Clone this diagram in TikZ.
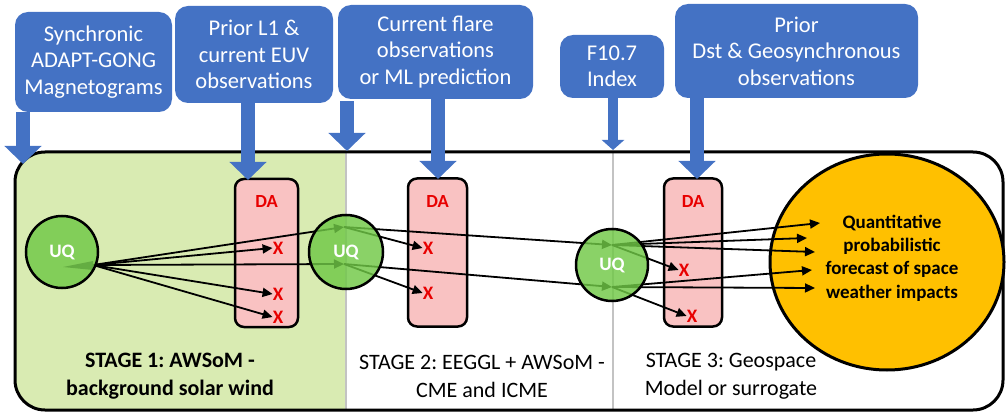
\documentclass[tikz,border=0pt]{standalone}
\usepackage{fontspec}
\setmainfont{Carlito}
\usetikzlibrary{arrows.meta,shapes.geometric}
\definecolor{cblue}{RGB}{68,114,196}
\definecolor{cgreen}{RGB}{112,200,70}
\definecolor{stagebg}{RGB}{217,235,178}
\definecolor{dapink}{RGB}{249,194,194}
\definecolor{corange}{RGB}{255,192,0}
\definecolor{sepgray}{RGB}{195,195,195}
\definecolor{xred}{RGB}{232,0,0}
\frenchspacing
\begin{document}
\begin{tikzpicture}[x=1pt,y=-1pt,
  callout/.style={fill=cblue, rounded corners=13pt, text=white, align=center,
    font=\fontsize{22.5}{26.5}\selectfont, inner sep=0pt},
  feed/.style={cblue, line width=14pt, -{Triangle[width=36pt,length=18pt]}},
  feedthin/.style={cblue, line width=10pt, -{Triangle[width=22pt,length=10pt]}},
  uq/.style={circle, draw=black, line width=2.5pt, fill=cgreen, fill opacity=0.82,
    text opacity=1, text=white, font=\bfseries\fontsize{19}{22}\selectfont,
    minimum size=72pt, inner sep=0pt},
  dabox/.style={draw=black, line width=2.5pt, fill=dapink, rounded corners=9pt,
    minimum height=148pt, inner sep=0pt},
  dalabel/.style={text=xred, font=\bfseries\fontsize{18.5}{20}\selectfont, inner sep=0pt},
  xmark/.style={text=xred, font=\bfseries\fontsize{19}{22}\selectfont, inner sep=0pt},
  conn/.style={black, line width=1.8pt, -{Triangle[length=10pt,width=9pt]}},
  stagelbl/.style={align=center, font=\fontsize{22}{28}\selectfont, inner sep=0pt},
  sep/.style={sepgray, line width=2pt}
]
\useasboundingbox (0,0) rectangle (1006,414);

% stage 1 background
\begin{scope}
  \clip[rounded corners=30pt] (15,152) rectangle (1003,410);
  \fill[stagebg] (15,152) rectangle (346,410);
\end{scope}
% separators
\draw[sep] (346,152) -- (346,410);
\draw[sep] (613,152) -- (613,410);
% main frame
\draw[line width=3pt, rounded corners=30pt] (15,152) rectangle (1003,410);

% DA boxes
\node[dabox, minimum width=63pt] (DA1) at (266.5,253) {};
\node[dabox, minimum width=59pt] (DA2) at (437.5,252.5) {};
\node[dabox, minimum width=58pt] (DA3) at (693,252.5) {};
\node[dalabel] (DAl1) at (266.5,202) {DA};
\node[dalabel] (DAl2) at (437.5,202) {DA};
\node[dalabel] (DAl3) at (693,202) {DA};

% X marks
\node[xmark] (x11) at (278,248) {X};
\node[xmark] (x12) at (278,294) {X};
\node[xmark] (x13) at (278,317) {X};
\node[xmark] (x21) at (428,248) {X};
\node[xmark] (x22) at (428,293) {X};
\node[xmark] (x31) at (684,270) {X};
\node[xmark] (x32) at (692,316) {X};

% forecast circle
\node[ellipse, draw=black, line width=3pt, fill=corange, minimum width=234pt,
  minimum height=216pt, inner sep=0pt] (FC) at (887,262) {};
\node[align=center, font=\bfseries\fontsize{19}{23.3}\selectfont, inner sep=0pt]
  (FCt) at (892,258) {Quantitative\\probabilistic\\forecast of space\\weather impacts};

% connector anchor points
\coordinate (o1) at (93,265);
\coordinate (o2a) at (344,227);
\coordinate (o2b) at (344,264);
\coordinate (o3a) at (612,245);
\coordinate (o3b) at (612,287);
\coordinate (f1) at (820,223);
\coordinate (f2) at (807,238);
\coordinate (f3) at (815,252);
\coordinate (f4) at (812,270);
\coordinate (f5) at (815,288);

% stage 1 arrows
\fill[black!80] (93,261) -- (93,270) -- (63,267) -- cycle;
\draw[conn] (o1) -- (o2a);
\draw[conn] (o1) -- (x11.west);
\draw[conn] (o1) -- (o2b);
\draw[conn] (o1) -- (x12.west);
\draw[conn] (o1) -- (x13.west);
% stage 2 arrows
\draw[conn] (o2a) -- (o3a);
\draw[conn] (o2a) -- (x21.west);
\draw[conn] (o2b) -- (o3b);
\draw[conn] (o2b) -- (x22.west);
% stage 3 arrows
\draw[conn] (o3a) -- (f1);
\draw[conn] (o3a) -- (f2);
\draw[conn] (o3a) -- (f3);
\draw[conn] (o3a) -- (x31.west);
\draw[conn] (o3b) -- (f4);
\draw[conn] (o3b) -- (f5);
\draw[conn] (o3b) -- (x32.west);

% UQ circles
\node[uq] (UQ1) at (62,252) {UQ};
\node[uq, minimum size=74pt] (UQ2) at (346,252) {UQ};
\node[uq] (UQ3) at (612,265) {UQ};

% stage labels
\node[stagelbl, font=\bfseries\fontsize{22}{28}\selectfont] (S1) at (170,376)
  {STAGE 1: AWSoM -\\background solar wind};
\node[stagelbl] (S2) at (482,376) {STAGE 2: EEGGL + AWSoM -\\CME and ICME};
\node[stagelbl] (S3) at (731,376) {STAGE 3: Geospace\\Model or surrogate};

% callouts
\node[callout, minimum width=157pt, minimum height=100pt] (C1) at (93.5,62)
  {Synchronic\\ADAPT-GONG\\Magnetograms};
\node[callout, minimum width=158pt, minimum height=97pt] (C2) at (254,54.5)
  {Prior L1 \&\\current EUV\\observations};
\node[callout, minimum width=195pt, minimum height=94pt] (C3) at (435.5,52)
  {Current flare\\observations\\or ML prediction};
\node[callout, minimum width=104pt, minimum height=63pt] (C4) at (612,66.5)
  {F10.7\\Index};
\node[callout, minimum width=243pt, minimum height=94pt] (C5) at (796.5,51)
  {Prior\\Dst \& Geosynchronous\\observations};

\coordinate (t1) at (23,164);
\coordinate (t2) at (248,180);
\coordinate (t3a) at (347,151);
\coordinate (t3b) at (438,179);
\coordinate (t4) at (613,150);
\coordinate (t5) at (697,179);

\draw[feed] (C1.south -| t1) -- (t1);
\draw[feed] (C2.south -| t2) -- (t2);
\draw[feed] ([yshift=-2pt]C3.south -| t3a) -- (t3a);
\draw[feed] (C3.south -| t3b) -- (t3b);
\draw[feedthin] (C4.south -| t4) -- (t4);
\draw[feed] (C5.south -| t5) -- (t5);
\end{tikzpicture}
\end{document}
